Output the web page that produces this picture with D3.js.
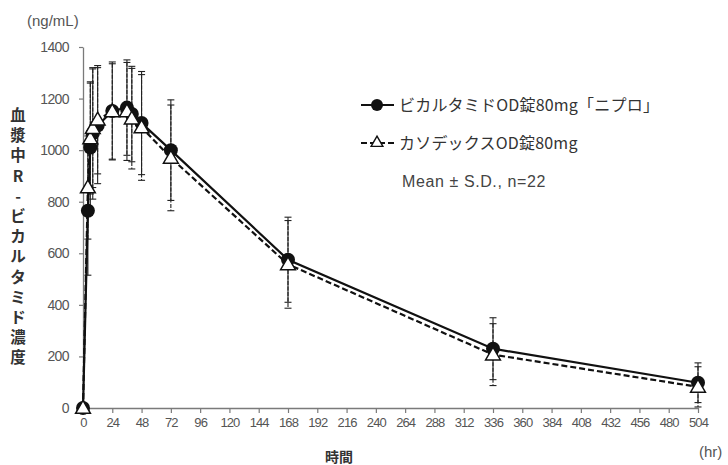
<!DOCTYPE html>
<html><head><meta charset="utf-8">
<script src="https://cdn.jsdelivr.net/npm/d3@7"></script>
<style>body{margin:0;background:#fff}svg{display:block}</style>
</head><body>
<svg id="c" width="728" height="465"></svg>
<script>
const times = [0, 4, 6, 8, 12, 24, 36, 40, 48, 72, 168, 336, 504];
const niproMean = [0, 765, 1010, 1065, 1095, 1152, 1165, 1140, 1105, 1000, 575, 230, 98];
const niproSD   = [0, 250, 255, 255, 225, 190, 185, 185, 200, 195, 165, 120, 77];
const casoMean  = [0, 855, 1045, 1085, 1118, 1150, 1150, 1122, 1088, 970, 557, 207, 82];
const casoSD    = [0, 200, 215, 230, 210, 185, 190, 195, 205, 205, 170, 120, 78];
const xTicks = d3.range(0, 505, 24);
const yTicks = [0, 200, 400, 600, 800, 1000, 1200, 1400];
const seriesNames = ["ビカルタミドOD錠80mg「ニプロ」", "カソデックスOD錠80mg"];
const yTitleChars = ["血","漿","中","R","-","ビ","カ","ル","タ","ミ","ド","濃","度"];

const svg = d3.select("#c");
const x = d3.scaleLinear().domain([0, 504]).range([83, 698]);
const y = d3.scaleLinear().domain([0, 1400]).range([408, 47]);
const axisCol = "#7a7a7a", tickTxt = "#555";

// Axes
const gx = svg.append("g").attr("transform", "translate(0,408)")
  .call(d3.axisBottom(x).tickValues(xTicks).tickFormat(d3.format("d")).tickSize(5).tickPadding(5).tickSizeOuter(0));
gx.select(".domain").attr("stroke", axisCol).attr("stroke-width", 1.3);
gx.selectAll(".tick line").attr("stroke", axisCol).attr("stroke-width", 1.2);
gx.selectAll(".tick text").attr("fill", tickTxt).attr("font-family", "Liberation Sans, Arial, sans-serif")
  .attr("font-size", 13).attr("letter-spacing", "-0.9px");

const gy = svg.append("g").attr("transform", "translate(83,0)")
  .call(d3.axisLeft(y).tickValues(yTicks).tickFormat(d3.format("d")).tickSize(4).tickPadding(10).tickSizeOuter(0));
gy.select(".domain").attr("stroke", axisCol).attr("stroke-width", 1.3);
gy.selectAll(".tick line").attr("stroke", axisCol).attr("stroke-width", 1.2);
gy.selectAll(".tick text").attr("fill", tickTxt).attr("font-family", "Liberation Sans, Arial, sans-serif")
  .attr("font-size", 14).attr("letter-spacing", "-0.6px");

// Labels
svg.append("text").attr("x", 27).attr("y", 26).text("(ng/mL)")
  .attr("font-family", "Liberation Sans, Arial, sans-serif").attr("font-size", 15).attr("fill", "#555");
svg.append("text").attr("x", 699).attr("y", 457).text("(hr)")
  .attr("font-family", "Liberation Sans, Arial, sans-serif").attr("font-size", 15).attr("fill", "#555");
svg.append("text").attr("x", 339).attr("y", 462).attr("text-anchor", "middle").text("時間")
  .attr("font-family", "Noto Sans CJK JP").attr("font-size", 14).attr("font-weight", "bold").attr("fill", "#333");
svg.append("g").selectAll("text").data(yTitleChars).join("text")
  .attr("x", 18).attr("y", (d, i) => 121 + i * 20.2).attr("text-anchor", "middle")
  .attr("font-family", "Noto Sans CJK JP").attr("font-size", 15.5).attr("font-weight", "bold").attr("fill", "#333")
  .text(d => d);

const nipro = times.map((t, i) => ({t, m: niproMean[i], sd: niproSD[i]}));
const caso = times.map((t, i) => ({t, m: casoMean[i], sd: casoSD[i]}));

// Error bars
function errBars(data, dash) {
  const g = svg.append("g").attr("stroke", "#222").attr("stroke-width", 1.1);
  data.filter(d => d.sd > 0).forEach(d => {
    const cx = x(d.t), y1 = y(d.m + d.sd), y2 = y(d.m - d.sd);
    g.append("line").attr("x1", cx).attr("x2", cx).attr("y1", y1).attr("y2", y2)
      .attr("stroke-dasharray", dash ? "4,1.5" : null);
    g.append("line").attr("x1", cx - 3.5).attr("x2", cx + 3.5).attr("y1", y1).attr("y2", y1);
    g.append("line").attr("x1", cx - 3.5).attr("x2", cx + 3.5).attr("y1", y2).attr("y2", y2);
  });
}
errBars(nipro, false);
errBars(caso, true);

// Lines
const line = d3.line().x(d => x(d.t)).y(d => y(d.m));
svg.append("path").datum(caso).attr("d", line).attr("fill", "none").attr("stroke", "#111")
  .attr("stroke-width", 2.2).attr("stroke-dasharray", "6,3");
svg.append("path").datum(nipro).attr("d", line).attr("fill", "none").attr("stroke", "#111")
  .attr("stroke-width", 2.2);

// Markers
const tri = d3.symbol().type(d3.symbolTriangle).size(95);
svg.append("g").selectAll("circle").data(nipro).join("circle")
  .attr("cx", d => x(d.t)).attr("cy", d => y(d.m)).attr("r", 7).attr("fill", "#111");
svg.append("g").selectAll("path").data(caso).join("path")
  .attr("transform", d => `translate(${x(d.t)},${y(d.m) + 1})`).attr("d", tri)
  .attr("fill", "#fff").attr("stroke", "#111").attr("stroke-width", 1.5);

// Legend
const lg = svg.append("g").attr("font-family", "Noto Sans CJK JP").attr("font-size", 16).attr("fill", "#333");
lg.append("line").attr("x1", 361).attr("x2", 394).attr("y1", 105).attr("y2", 105).attr("stroke", "#111").attr("stroke-width", 2.2);
lg.append("circle").attr("cx", 377).attr("cy", 105).attr("r", 6).attr("fill", "#111");
lg.append("text").attr("x", 399).attr("y", 111).attr("letter-spacing", "0.2px").text(seriesNames[0]);
lg.append("line").attr("x1", 361).attr("x2", 394).attr("y1", 143).attr("y2", 143).attr("stroke", "#111")
  .attr("stroke-width", 2.2).attr("stroke-dasharray", "6,3");
lg.append("path").attr("transform", "translate(377,143)").attr("d", d3.symbol().type(d3.symbolTriangle).size(60))
  .attr("fill", "#fff").attr("stroke", "#111").attr("stroke-width", 1.4);
lg.append("text").attr("x", 399).attr("y", 149).attr("letter-spacing", "0.2px").text(seriesNames[1]);
lg.append("text").attr("x", 402).attr("y", 187).attr("font-family", "Liberation Sans, Arial, sans-serif")
  .attr("font-size", 16).attr("letter-spacing", "0.6px").attr("fill", "#444").text("Mean ± S.D., n=22");
</script>
</body></html>
